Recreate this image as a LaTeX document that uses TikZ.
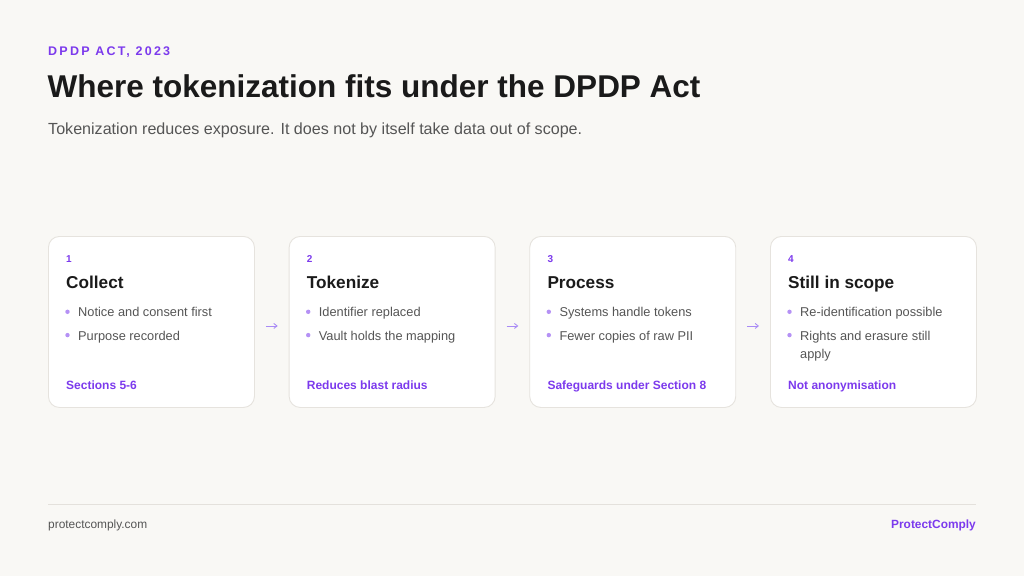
\documentclass[tikz,border=0pt]{standalone}
\usepackage{fontspec}
\setmainfont{Liberation Sans}
\newfontfamily\spacedfont[LetterSpace=18]{Liberation Sans}
\usetikzlibrary{calc,arrows.meta}
\definecolor{bg}{HTML}{F9F8F5}
\definecolor{cardline}{HTML}{E6E3DE}
\definecolor{purp}{HTML}{7C3AED}
\definecolor{dotc}{HTML}{B591F5}
\definecolor{arrc}{HTML}{A98BF5}
\definecolor{ink}{HTML}{1A1A1A}
\definecolor{body}{HTML}{555555}
\definecolor{rule}{HTML}{E4E1DC}
\tikzset{
  card/.style={draw=cardline, line width=0.9pt, fill=white, rounded corners=11pt,
    minimum width=206pt, minimum height=171pt, anchor=north west, inner sep=0pt},
  txt/.style={anchor=base west, inner sep=0pt},
  numtxt/.style={txt, text=purp, font=\fontsize{10}{12}\selectfont\bfseries},
  ttltxt/.style={txt, text=ink, font=\fontsize{17.2}{20}\selectfont\bfseries},
  bultxt/.style={txt, text=body, font=\fontsize{12.8}{16}\selectfont},
  foottxt/.style={txt, text=purp, font=\fontsize{12}{15}\selectfont\bfseries},
  bdot/.style={circle, fill=dotc, inner sep=0pt, minimum size=4.4pt},
  flow/.style={draw=arrc, line width=0.9pt, -{Straight Barb[length=3.2pt,width=5pt]}, shorten <=11pt, shorten >=11pt}
}
\begin{document}
\begin{tikzpicture}[x=1pt,y=-1pt]
\fill[bg] (0,0) rectangle (1024,576);
\useasboundingbox (0,0) rectangle (1024,576);
% header
\node[txt, text=purp, font=\fontsize{12.5}{15}\selectfont\spacedfont\bfseries] (kicker) at (48,55.7) {DPDP ACT, 2023};
\node[txt, text=ink, font=\fontsize{31.5}{36}\selectfont\bfseries] (title) at (47.5,97.5) {Where tokenization fits under the DPDP Act};
\node[txt, text=body, font=\fontsize{16.1}{20}\selectfont] (sub) at (48,134.3) {Tokenization reduces exposure. It does not by itself take data out of scope.};
% cards
\foreach \i/\x in {1/48,2/288.7,3/529.3,4/770}{
  \node[card] (c\i) at (\x,236) {};
}
\newcommand{\cardtext}[6]{%
  \node[numtxt] (#1n) at ($(#1.north west)+(18,26.7)$) {#2};
  \node[ttltxt] (#1t) at ($(#1.north west)+(18,52.3)$) {#3};
  \node[bdot] (#1d1) at ($(#1.north west)+(19.5,75.8)$) {};
  \node[bultxt] (#1b1) at ($(#1.north west)+(30,80.7)$) {#4};
  \node[bdot] (#1d2) at ($(#1.north west)+(19.5,99.1)$) {};
  \node[bultxt] (#1b2) at ($(#1.north west)+(30,104)$) {#5};
  \node[foottxt] (#1f) at ($(#1.north west)+(18,153.3)$) {#6};
}
\cardtext{c1}{1}{Collect}{Notice and consent first}{Purpose recorded}{Sections 5-6}
\cardtext{c2}{2}{Tokenize}{Identifier replaced}{Vault holds the mapping}{Reduces blast radius}
\cardtext{c3}{3}{Process}{Systems handle tokens}{Fewer copies of raw PII}{Safeguards under Section 8}
\cardtext{c4}{4}{Still in scope}{Re-identification possible}{Rights and erasure still}{Not anonymisation}
\node[bultxt] (c4b3) at ($(c4.north west)+(30,122.3)$) {apply};
% arrows
\draw[flow] ([yshift=-4pt]c1.east) -- ([yshift=-4pt]c2.west);
\draw[flow] ([yshift=-4pt]c2.east) -- ([yshift=-4pt]c3.west);
\draw[flow] ([yshift=-4pt]c3.east) -- ([yshift=-4pt]c4.west);
% footer
\coordinate (rl) at (48,504.5);
\coordinate (rr) at (976,504.5);
\draw[rule, line width=0.9pt] (rl) -- (rr);
\node[txt, text=body, font=\fontsize{11.9}{15}\selectfont] (site) at (48,528.3) {protectcomply.com};
\node[anchor=base east, inner sep=0pt, text=purp, font=\fontsize{11.9}{15}\selectfont\bfseries] (brand) at (976,528.3) {ProtectComply};
\end{tikzpicture}
\end{document}
